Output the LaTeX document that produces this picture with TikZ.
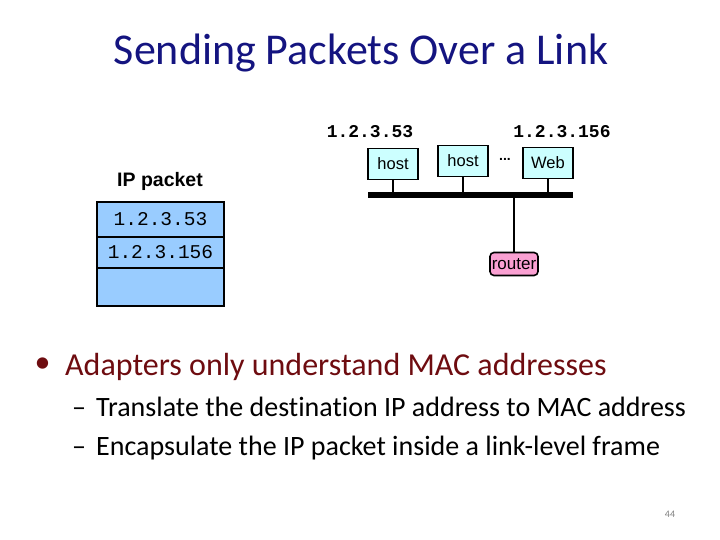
\documentclass[tikz,border=0pt]{standalone}
\usepackage{fontspec}
\setmainfont{Carlito}[Ligatures=NoCommon]
\newfontfamily\arialf{Liberation Sans}
\newfontfamily\courf{Liberation Mono}
\definecolor{titleblue}{RGB}{20,20,128}
\definecolor{maroon}{RGB}{110,12,16}
\definecolor{hostfill}{RGB}{204,255,255}
\definecolor{pktfill}{RGB}{153,204,255}
\definecolor{routerfill}{RGB}{250,160,210}
\begin{document}
\begin{tikzpicture}[x=1pt,y=-1pt,
  titlestyle/.style={font=\fontsize{44}{50}\selectfont, text=titleblue, inner sep=0, anchor=base},
  ipstyle/.style={font=\courf\bfseries\fontsize{18}{20}\selectfont, inner sep=0},
  hostbox/.style={draw, line width=1.6pt, fill=hostfill, font=\arialf\fontsize{16.5}{18}\selectfont, minimum width=50, minimum height=31, inner sep=0},
  routerbox/.style={draw, line width=1.6pt, fill=routerfill, rounded corners=4pt, font=\arialf\fontsize{17}{18}\selectfont, minimum width=48, minimum height=23, inner sep=0},
  pktrow/.style={draw, line width=2.6pt, fill=pktfill, minimum width=127, inner sep=0, font=\courf\fontsize{19.5}{21}\selectfont},
  wire/.style={line width=1.6pt},
  bul/.style={anchor=base west, inner sep=0, font=\fontsize{32}{38}\selectfont, text=maroon},
  subbul/.style={anchor=base west, inner sep=0, font=\fontsize{28}{33}\selectfont, text=black}
]
\useasboundingbox (0,0) rectangle (720,540);
\node[titlestyle] (title) at (361,65) {Sending Packets Over a Link};
% addresses
\node[ipstyle] (ipa) at (370,132) {1.2.3.53};
\node[ipstyle] (ipb) at (562,132) {1.2.3.156};
% hosts
\node[hostbox] (h1) at (393,164) {host};
\node[hostbox] (h2) at (463,161) {host};
\node[inner sep=0, font=\arialf\bfseries\fontsize{14}{16}\selectfont] (dots) at (505,159) {...};
\node[hostbox] (web) at (548,163) {Web};
% bus
\coordinate (busL) at (368,195);
\coordinate (busR) at (573,195);
\draw[line width=6.5pt] (busL) -- (busR);
\draw[wire] (h1.south) -- (h1.south |- busL);
\draw[wire] (h2.south) -- (h2.south |- busL);
\draw[wire] (web.south) -- (web.south |- busL);
\node[routerbox] (router) at (514,264) {router};
\draw[wire] (router.north) -- (router.north |- busL);
% IP packet
\node[inner sep=0, font=\arialf\bfseries\fontsize{19.5}{22}\selectfont] (iplabel) at (160,181) {IP packet};
\node[pktrow, minimum height=35] (r1) at (160.5,219.5) {1.2.3.53};
\node[pktrow, minimum height=31] (r2) at (160.5,252.5) {1.2.3.156};
\node[pktrow, minimum height=38] (r3) at (160.5,287) {};
% bullets
\node[inner sep=0, font=\fontsize{32}{38}\selectfont, text=maroon] (b0) at (42.5,365) {•};
\node[bul] (b1) at (65,375) {Adapters only understand MAC addresses};
\node[subbul] (d1) at (72,416) {–};
\node[subbul] (s1) at (96,416) {Translate the destination IP address to MAC address};
\node[subbul] (d2) at (72,455) {–};
\node[subbul] (s2) at (96,455) {Encapsulate the IP packet inside a link-level frame};
\node[inner sep=0, font=\fontsize{10}{12}\selectfont, text=gray] (pg) at (670,514) {44};
\end{tikzpicture}
\end{document}
